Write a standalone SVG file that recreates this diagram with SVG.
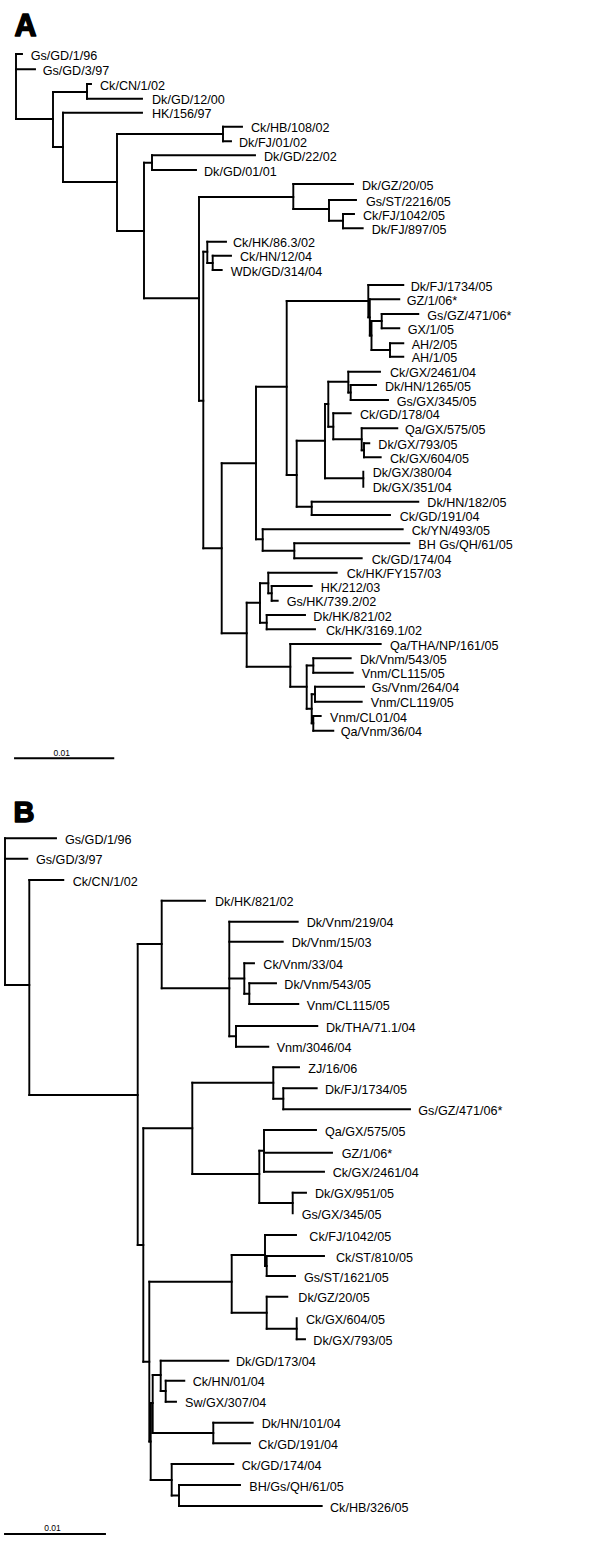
<svg xmlns="http://www.w3.org/2000/svg" width="600" height="1546" viewBox="0 0 600 1546">
<style>
.c{stroke:#000;stroke-width:1.9;fill:none;stroke-linecap:square}
.t{font-family:"Liberation Sans",Arial,Helvetica,sans-serif;font-size:12.6px;fill:#000}
.h{font-family:"Liberation Sans",Arial,Helvetica,sans-serif;font-weight:bold;fill:#000;stroke:#000;stroke-width:1.5;stroke-linejoin:round}
.s{font-family:"Liberation Sans",Arial,Helvetica,sans-serif;font-size:8.5px;fill:#000;text-anchor:middle}
</style>
<rect width="600" height="1546" fill="#fff"/>
<g id="label-A"><text class="h" x="14.5" y="35.5" font-size="30.5">A</text></g>
<g id="label-B"><text class="h" x="13.5" y="822.3" font-size="29">B</text></g>
<g id="connectors">
<path class="c" d="M16 54V119M53 92V147M87 84V98.7M63 112.7V182M117 134V231M223 126.7V141.3M144 162.7V298.3M152 155.3V170M199 197V400.7M293.3 184V209M329 200V220.7M343 214V228.3M203.3 251.7V548.3M207.3 241.7V263M212.7 255.7V270M221.7 463.3V633.3M256 386.7V539.3M286.7 301V475M368.3 285V317.4M369.8 299.3V335.5M371.5 321V350M381.7 314V328.3M390 343.3V356.7M296.7 440.7V506.7M325 404V478.3M328.3 381.7V426.7M348.3 371.7V392.5M350.7 385V400M333.3 413.3V439.3M361.7 428.3V450.3M364 443.3V457.3M363.3 471.7V486.7M311.7 501.7V515M262.7 529.3V550.7M294.3 543.3V558.3M246.7 602.7V666.7M260 583.3V622.7M268.3 572.7V593.3M271.7 586V600.7M266.7 615V629.3M290.3 644V686.7M306.7 665.5V708.8M313.3 658.3V672.7M311.7 694.2V723.3M315 686.7V701.7M313.3 716V730.7"/>
<path class="c" d="M16 119H53M53 92H87M53 147H63M63 182H117M117 134H223M117 231H144M144 162.7H152M144 298.3H199M199 197H293.3M293.3 209H329M329 220.7H343M199 400.7H203.3M203.3 251.7H207.3M207.3 263H212.7M203.3 548.3H221.7M221.7 463.3H256M256 386.7H286.7M286.7 301H368.3M368.3 317.4H369.8M369.8 335.5H371.5M371.5 321H381.7M371.5 350H390M286.7 475H296.7M296.7 440.7H325M325 404H328.3M328.3 381.7H348.3M348.3 392.5H350.7M328.3 426.7H333.3M333.3 439.3H361.7M361.7 450.3H364M325 478.3H363.3M296.7 506.7H311.7M256 539.3H262.7M262.7 550.7H294.3M221.7 633.3H246.7M246.7 602.7H260M260 583.3H268.3M268.3 593.3H271.7M260 622.7H266.7M246.7 666.7H290.3M290.3 686.7H306.7M306.7 665.5H313.3M306.7 708.8H311.7M311.7 694.2H315M311.7 723.3H313.3"/>
<path class="c" d="M16 54H22M16 69.3H35M87 84H91M87 98.7H142M63 112.7H142M223 126.7H242M223 141.3H231M152 155.3H255M152 170H196M293.3 184H353M329 200H356M343 214H354M343 228.3H362.7M207.3 241.7H226M212.7 255.7H231M212.7 270H221.7M368.3 285H403.3M369.8 299.3H399.3M381.7 314H418.3M381.7 328.3H399.3M390 343.3H403.3M390 356.7H403.3M348.3 371.7H380M350.7 385H376M350.7 400H388M333.3 413.3H350.7M361.7 428.3H397.3M364 443.3H369.3M364 457.3H380.7M311.7 501.7H418.3M311.7 515H390M262.7 529.3H402.7M294.3 543.3H409.3M294.3 558.3H361.7M268.3 572.7H336.7M271.7 586H311.7M271.7 600.7H277.7M266.7 615H305M266.7 629.3H315M290.3 644H380.7M313.3 658.3H350.7M313.3 672.7H352.7M315 686.7H364M315 701.7H361.7M313.3 716H320.7M313.3 730.7H333.3"/>
<path class="c" d="M5 838.3V985M29.3 880V1095M137.7 944V1245M161.7 900.7V988.3M229.3 921.7V1036.3M244.3 963.3V993.7M249.3 983.3V1004M236 1026V1046.7M143.3 1128.3V1361.7M192.3 1082.7V1174M273.3 1067.3V1098.8M283.3 1088.3V1109.3M259.3 1150.8V1203M264 1130V1171.7M292.7 1192.7V1213.3M149.3 1281.7V1441.5M231.7 1255V1312.7M265 1235V1266M266.7 1256V1276M266.7 1296.7V1328.8M296.7 1318.3V1339.3M150.7 1403V1480M152.7 1375V1433M160.7 1360.7V1391M165.7 1380.7V1401.7M213.3 1422.7V1443.3M171.7 1464V1495.5M179 1485V1506"/>
<path class="c" d="M5 985H29.3M29.3 1095H137.7M137.7 944H161.7M161.7 988.3H229.3M229.3 978.5H244.3M244.3 993.7H249.3M229.3 1036.3H236M137.7 1245H143.3M143.3 1128.3H192.3M192.3 1082.7H273.3M273.3 1098.8H283.3M192.3 1174H259.3M259.3 1150.8H264M259.3 1203H292.7M143.3 1361.7H149.3M149.3 1281.7H231.7M231.7 1255H265M265 1266H266.7M231.7 1312.7H266.7M266.7 1328.8H296.7M149.3 1441.5H150.7M150.7 1403H152.7M152.7 1375H160.7M160.7 1391H165.7M152.7 1433H213.3M150.7 1480H171.7M171.7 1495.5H179"/>
<path class="c" d="M5 838.3H56M5 858.7H27.3M29.3 880H63.3M161.7 900.7H205M229.3 921.7H297.7M229.3 941.7H282.7M244.3 963.3H254M249.3 983.3H276M249.3 1004H298.3M236 1026H317.3M236 1046.7H268.3M273.3 1067.3H299M283.3 1088.3H316.7M283.3 1109.3H410M264 1130H316M264 1152.7H332M264 1171.7H324M292.7 1192.7H306M265 1235H296M266.7 1256H324M266.7 1276H295M266.7 1296.7H287.3M296.7 1339.3H305M160.7 1360.7H228.3M165.7 1380.7H184.3M165.7 1401.7H176M213.3 1422.7H252.7M213.3 1443.3H250M171.7 1464H233.3M179 1485H240M179 1506H321.7"/>
<path class="c" d="M15 758.3H113.3M5 1534H105"/>
</g>
<g id="scale-A"><text class="s" x="61.7" y="755.5">0.01</text></g>
<g id="scale-B"><text class="s" x="52.5" y="1531">0.01</text></g>
<g id="tree-A-leaves" class="t">
<g id="a01"><text x="30.7" y="59.5">Gs/GD/1/96</text></g>
<g id="a02"><text x="42.7" y="74.8">Gs/GD/3/97</text></g>
<g id="a03"><text x="100" y="89.5">Ck/CN/1/02</text></g>
<g id="a04"><text x="152" y="104.2">Dk/GD/12/00</text></g>
<g id="a05"><text x="152" y="118.2">HK/156/97</text></g>
<g id="a06"><text x="251" y="132.2">Ck/HB/108/02</text></g>
<g id="a07"><text x="239" y="146.8">Dk/FJ/01/02</text></g>
<g id="a08"><text x="264" y="160.8">Dk/GD/22/02</text></g>
<g id="a09"><text x="204" y="175.5">Dk/GD/01/01</text></g>
<g id="a10"><text x="362" y="189.5">Dk/GZ/20/05</text></g>
<g id="a11"><text x="366" y="205.5">Gs/ST/2216/05</text></g>
<g id="a12"><text x="363" y="219.5">Ck/FJ/1042/05</text></g>
<g id="a13"><text x="371.7" y="233.8">Dk/FJ/897/05</text></g>
<g id="a14"><text x="233" y="247.2">Ck/HK/86.3/02</text></g>
<g id="a15"><text x="240" y="261.2">Ck/HN/12/04</text></g>
<g id="a16"><text x="230.7" y="275.5">WDk/GD/314/04</text></g>
<g id="a17"><text x="410.7" y="290.5">Dk/FJ/1734/05</text></g>
<g id="a18"><text x="406.7" y="304.8">GZ/1/06*</text></g>
<g id="a19"><text x="427.3" y="319.5">Gs/GZ/471/06*</text></g>
<g id="a20"><text x="407.7" y="333.8">GX/1/05</text></g>
<g id="a21"><text x="411.7" y="348.8">AH/2/05</text></g>
<g id="a22"><text x="411.7" y="362.2">AH/1/05</text></g>
<g id="a23"><text x="390" y="377.2">Ck/GX/2461/04</text></g>
<g id="a24"><text x="385" y="390.5">Dk/HN/1265/05</text></g>
<g id="a25"><text x="396.7" y="405.5">Gs/GX/345/05</text></g>
<g id="a26"><text x="360" y="418.8">Ck/GD/178/04</text></g>
<g id="a27"><text x="405" y="433.8">Qa/GX/575/05</text></g>
<g id="a28"><text x="378.3" y="448.8">Dk/GX/793/05</text></g>
<g id="a29"><text x="390" y="462.8">Ck/GX/604/05</text></g>
<g id="a30"><text x="372.7" y="477.2">Dk/GX/380/04</text></g>
<g id="a31"><text x="372.7" y="492.2">Dk/GX/351/04</text></g>
<g id="a32"><text x="427.3" y="507.2">Dk/HN/182/05</text></g>
<g id="a33"><text x="399.7" y="520.5">Ck/GD/191/04</text></g>
<g id="a34"><text x="411.7" y="534.8">Ck/YN/493/05</text></g>
<g id="a35"><text x="418.3" y="548.8">BH Gs/QH/61/05</text></g>
<g id="a36"><text x="371.7" y="563.8">Ck/GD/174/04</text></g>
<g id="a37"><text x="346.7" y="578.2">Ck/HK/FY157/03</text></g>
<g id="a38"><text x="320.7" y="591.5">HK/212/03</text></g>
<g id="a39"><text x="286.7" y="606.2">Gs/HK/739.2/02</text></g>
<g id="a40"><text x="313.3" y="620.5">Dk/HK/821/02</text></g>
<g id="a41"><text x="326" y="634.8">Ck/HK/3169.1/02</text></g>
<g id="a42"><text x="390" y="649.5">Qa/THA/NP/161/05</text></g>
<g id="a43"><text x="360" y="663.8">Dk/Vnm/543/05</text></g>
<g id="a44"><text x="361.7" y="678.2">Vnm/CL115/05</text></g>
<g id="a45"><text x="371.7" y="692.2">Gs/Vnm/264/04</text></g>
<g id="a46"><text x="370.7" y="707.2">Vnm/CL119/05</text></g>
<g id="a47"><text x="330" y="721.5">Vnm/CL01/04</text></g>
<g id="a48"><text x="340.7" y="736.2">Qa/Vnm/36/04</text></g>
</g>
<g id="tree-B-leaves" class="t">
<g id="b01"><text x="65" y="843.8">Gs/GD/1/96</text></g>
<g id="b02"><text x="36" y="864.2">Gs/GD/3/97</text></g>
<g id="b03"><text x="72.7" y="885.5">Ck/CN/1/02</text></g>
<g id="b04"><text x="215" y="906.2">Dk/HK/821/02</text></g>
<g id="b05"><text x="306.7" y="927.2">Dk/Vnm/219/04</text></g>
<g id="b06"><text x="291.7" y="947.2">Dk/Vnm/15/03</text></g>
<g id="b07"><text x="263.3" y="968.8">Ck/Vnm/33/04</text></g>
<g id="b08"><text x="284.3" y="988.8">Dk/Vnm/543/05</text></g>
<g id="b09"><text x="306.7" y="1009.5">Vnm/CL115/05</text></g>
<g id="b10"><text x="326" y="1031.5">Dk/THA/71.1/04</text></g>
<g id="b11"><text x="276.7" y="1052.2">Vnm/3046/04</text></g>
<g id="b12"><text x="308.3" y="1072.8">ZJ/16/06</text></g>
<g id="b13"><text x="325" y="1093.8">Dk/FJ/1734/05</text></g>
<g id="b14"><text x="418.3" y="1114.8">Gs/GZ/471/06*</text></g>
<g id="b15"><text x="325" y="1135.5">Qa/GX/575/05</text></g>
<g id="b16"><text x="341.7" y="1158.2">GZ/1/06*</text></g>
<g id="b17"><text x="332.7" y="1177.2">Ck/GX/2461/04</text></g>
<g id="b18"><text x="315" y="1198.2">Dk/GX/951/05</text></g>
<g id="b19"><text x="301.7" y="1218.8">Gs/GX/345/05</text></g>
<g id="b20"><text x="309.3" y="1240.5">Ck/FJ/1042/05</text></g>
<g id="b21"><text x="336" y="1261.5">Ck/ST/810/05</text></g>
<g id="b22"><text x="304" y="1281.5">Gs/ST/1621/05</text></g>
<g id="b23"><text x="298.3" y="1302.2">Dk/GZ/20/05</text></g>
<g id="b24"><text x="306" y="1323.8">Ck/GX/604/05</text></g>
<g id="b25"><text x="313.3" y="1344.8">Dk/GX/793/05</text></g>
<g id="b26"><text x="236" y="1366.2">Dk/GD/173/04</text></g>
<g id="b27"><text x="192.7" y="1386.2">Ck/HN/01/04</text></g>
<g id="b28"><text x="185" y="1407.2">Sw/GX/307/04</text></g>
<g id="b29"><text x="261.7" y="1428.2">Dk/HN/101/04</text></g>
<g id="b30"><text x="258.3" y="1448.8">Ck/GD/191/04</text></g>
<g id="b31"><text x="241.7" y="1469.5">Ck/GD/174/04</text></g>
<g id="b32"><text x="249.3" y="1490.5">BH/Gs/QH/61/05</text></g>
<g id="b33"><text x="330" y="1511.5">Ck/HB/326/05</text></g>
</g>
</svg>
